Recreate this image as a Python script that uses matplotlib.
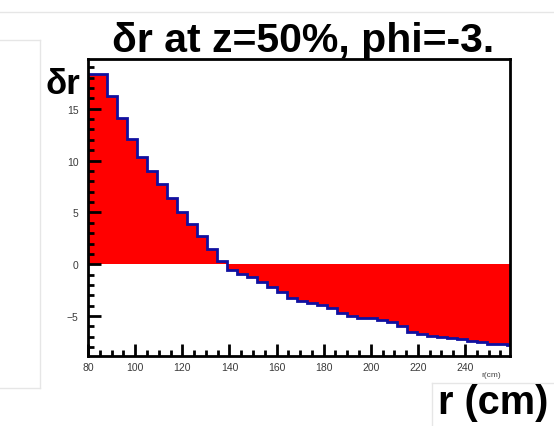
import numpy as np
import matplotlib
matplotlib.use("Agg")
import matplotlib.pyplot as plt
from matplotlib.lines import Line2D
from matplotlib.ticker import MultipleLocator

# Radial distortion histogram: bin edges in r (cm) and bin contents (delta r)
r_first_edge = 79.5
r_bin_width = 4.25
delta_r = [18.4, 18.4, 16.2, 14.1, 12.1, 10.35, 9.0, 7.7, 6.35, 5.07,
           3.9, 2.76, 1.47, 0.32, -0.6, -0.9, -1.25, -1.75, -2.2, -2.7,
           -3.3, -3.5, -3.7, -3.97, -4.25, -4.7, -5.0, -5.15, -5.2, -5.35,
           -5.6, -6.0, -6.5, -6.75, -6.9, -7.0, -7.1, -7.25, -7.4, -7.5,
           -7.7, -7.7, -7.75]
r_edges = r_first_edge + r_bin_width * np.arange(len(delta_r) + 1)

x_range = (80, 259.1)
y_range = (-8.85, 19.8)
x_ticks = [80, 100, 120, 140, 160, 180, 200, 220, 240]
y_ticks = [-5, 0, 5, 10, 15]

title = "δr at z=50%, phi=-3."
y_title = "δr"
x_title = "r (cm)"
x_axis_note = "r(cm)"

plt.rcParams['font.family'] = ['Liberation Sans', 'DejaVu Sans']

fig = plt.figure(figsize=(5.54, 4.27), dpi=100)
fig.patch.set_facecolor('white')

# faint panel borders around the canvas
faint = '#e6e6e6'
for xs, ys in [([0.0, 1.0], [0.97, 0.97]),
               ([0.072, 0.072], [0.09, 0.905]),
               ([0.0, 0.072], [0.905, 0.905]),
               ([0.0, 0.072], [0.09, 0.09]),
               ([0.78, 0.78], [0.0, 0.10]),
               ([0.78, 1.0], [0.10, 0.10])]:
    fig.add_artist(Line2D(xs, ys, color=faint, lw=1.0, transform=fig.transFigure))

ax = fig.add_axes([0.159, 0.164, 0.9206 - 0.159, 0.8595 - 0.164])

ax.stairs(delta_r, r_edges, baseline=0, fill=True, color='#ff0000', lw=0)
ax.stairs(delta_r, r_edges, baseline=None, color='#1010a0', lw=2.0)

ax.set_xlim(*x_range)
ax.set_ylim(*y_range)

ax.set_xticks(x_ticks)
ax.set_yticks(y_ticks)
ax.xaxis.set_minor_locator(MultipleLocator(5))
ax.yaxis.set_minor_locator(MultipleLocator(1))
ax.tick_params(which='both', direction='in', top=False, right=False,
               width=2.0, colors='black', labelcolor='#3a3a3a',
               labelsize=7.5)
ax.tick_params(which='major', length=9)
ax.tick_params(which='minor', length=4.5)
ax.tick_params(axis='y', which='major', pad=7)
ax.tick_params(axis='x', which='major', pad=4)

for sp in ax.spines.values():
    sp.set_linewidth(2.0)
    sp.set_color('black')

fig.text(0.547, 0.878, title, ha='center', va='baseline',
         fontsize=29.5, fontweight='bold')
fig.text(0.083, 0.779, y_title, ha='left', va='baseline',
         fontsize=25, fontweight='bold')
fig.text(0.99, 0.012, x_title, ha='right', va='bottom',
         fontsize=28.5, fontweight='bold')
fig.text(0.887, 0.113, x_axis_note, ha='center', va='bottom',
         fontsize=6, color='#444444')

fig.savefig("out.png", dpi=100, facecolor='white')
